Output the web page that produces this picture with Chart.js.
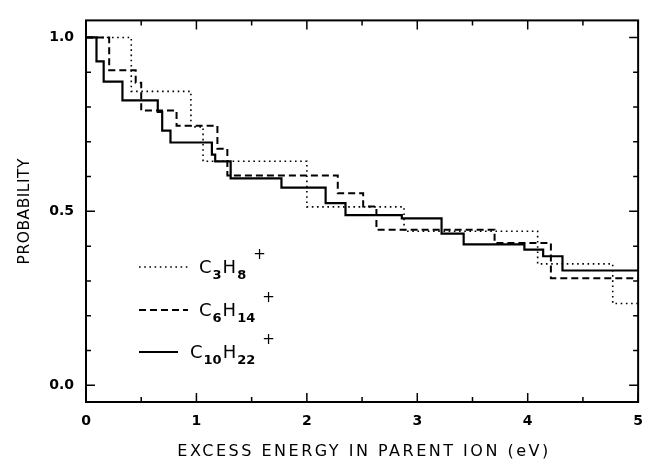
<!DOCTYPE html>
<html>
<head>
<meta charset="utf-8">
<script src="https://cdn.jsdelivr.net/npm/chart.js@4.4.1/dist/chart.umd.min.js"></script>
<style>
  html, body { margin: 0; padding: 0; background: #fff; }
  #wrap { width: 654px; height: 468px; }
</style>
</head>
<body>
<div id="wrap"><canvas id="prob-chart"></canvas></div>
<script>
// Each step starts at energy[i] (eV) and holds prob[i] until the next edge
const energyC3H8 = [0, 0.41, 0.95, 1.06, 2.0, 2.88, 4.09, 4.77];
const probC3H8 = [1.0, 0.845, 0.743, 0.644, 0.513, 0.443, 0.349, 0.235];

const energyC6H14 = [0, 0.21, 0.45, 0.50, 0.82, 1.19, 1.28, 2.28, 2.51, 2.63, 3.70, 4.21];
const probC6H14 = [1.0, 0.906, 0.87, 0.79, 0.746, 0.68, 0.603, 0.552, 0.514, 0.447, 0.409, 0.308];

const energyC10H22 = [0, 0.095, 0.16, 0.33, 0.65, 0.69, 0.765, 1.14, 1.17, 1.31, 1.77, 2.17, 2.35, 2.86, 3.22, 3.42, 3.97, 4.14, 4.315];
const probC10H22 = [1.0, 0.931, 0.873, 0.819, 0.786, 0.732, 0.698, 0.663, 0.644, 0.595, 0.568, 0.524, 0.489, 0.48, 0.436, 0.405, 0.39, 0.371, 0.33];

const seriesNames = ['C3H8+', 'C6H14+', 'C10H22+'];
const xTicks = [0, 1, 2, 3, 4, 5];
const yTicks = [0, 0.5, 1.0];
const xMax = 5;

function steps(edges, probs) {
  const pts = edges.map((e, i) => ({ x: e, y: probs[i] }));
  pts.push({ x: xMax, y: probs[probs.length - 1] });
  return pts;
}

// split "C10H22+" into normal / subscript / superscript runs
function formulaParts(name) {
  const parts = [];
  for (const ch of name) {
    const kind = /[0-9]/.test(ch) ? 'sub' : ch === '+' ? 'sup' : 'main';
    const last = parts[parts.length - 1];
    if (last && last.kind === kind) last.text += ch;
    else parts.push({ kind, text: ch });
  }
  return parts;
}

const FONT = '"DejaVu Sans", sans-serif';

// legend rows: sample line end and text start, per series
const legendRows = [
  { y: 267, lineEnd: 190, textX: 199 },
  { y: 310, lineEnd: 188, textX: 199 },
  { y: 352, lineEnd: 178, textX: 190 },
];

const framePlugin = {
  id: 'framePlugin',
  afterDraw(chart) {
    const { ctx, chartArea: a } = chart;
    const x = chart.scales.x, y = chart.scales.y;
    ctx.save();
    ctx.strokeStyle = '#000';
    ctx.setLineDash([]);

    // box
    ctx.lineWidth = 2;
    ctx.strokeRect(a.left, a.top, a.right - a.left, a.bottom - a.top);

    // inward tick marks on all four sides
    ctx.lineWidth = 1.5;
    ctx.beginPath();
    for (let i = 0; i <= 10; i++) {
      const px = x.getPixelForValue(i * 0.5);
      const len = i % 2 === 0 ? 9 : 5;
      ctx.moveTo(px, a.bottom); ctx.lineTo(px, a.bottom - len);
      ctx.moveTo(px, a.top); ctx.lineTo(px, a.top + len);
    }
    for (let i = 0; i <= 10; i++) {
      const py = y.getPixelForValue(i / 10);
      const len = i % 5 === 0 ? 9 : 5;
      ctx.moveTo(a.left, py); ctx.lineTo(a.left + len, py);
      ctx.moveTo(a.right, py); ctx.lineTo(a.right - len, py);
    }
    ctx.stroke();

    // axis titles
    ctx.fillStyle = '#000';
    ctx.textAlign = 'center';
    ctx.textBaseline = 'middle';
    ctx.font = '16px ' + FONT;
    ctx.letterSpacing = '2.5px';
    ctx.fillText('EXCESS ENERGY IN PARENT ION (eV)', (a.left + a.right) / 2 + 2, 452);
    ctx.font = '15.5px ' + FONT;
    ctx.letterSpacing = '0.5px';
    ctx.save();
    ctx.translate(25, (a.top + a.bottom) / 2);
    ctx.rotate(-Math.PI / 2);
    ctx.fillText('PROBABILITY', 0, 0);
    ctx.restore();
    ctx.letterSpacing = '0px';

    // legend with sub/superscripts
    chart.data.datasets.forEach((ds, i) => {
      const row = legendRows[i];
      ctx.beginPath();
      ctx.lineWidth = ds.borderWidth;
      ctx.setLineDash(ds.borderDash || []);
      ctx.moveTo(139, row.y);
      ctx.lineTo(row.lineEnd, row.y);
      ctx.stroke();
      ctx.setLineDash([]);

      let tx = row.textX;
      const base = row.y + 6;
      ctx.textAlign = 'left';
      ctx.textBaseline = 'alphabetic';
      formulaParts(seriesNames[i]).forEach(p => {
        if (p.kind === 'main') {
          ctx.font = '18px ' + FONT;
          ctx.fillText(p.text, tx, base);
          tx += ctx.measureText(p.text).width;
        } else if (p.kind === 'sub') {
          ctx.font = 'bold 13px ' + FONT;
          ctx.fillText(p.text, tx + 1, base + 6);
          tx += ctx.measureText(p.text).width + 2;
        } else {
          ctx.font = '15px ' + FONT;
          ctx.fillText(p.text, tx + 6, base - 14);
        }
      });
    });
    ctx.restore();
  }
};

new Chart(document.getElementById('prob-chart'), {
  type: 'line',
  data: {
    datasets: [
      {
        label: seriesNames[0],
        data: steps(energyC3H8, probC3H8),
        borderColor: '#000',
        borderWidth: 1.6,
        borderDash: [1.6, 3.6],
      },
      {
        label: seriesNames[1],
        data: steps(energyC6H14, probC6H14),
        borderColor: '#000',
        borderWidth: 2,
        borderDash: [7, 4],
      },
      {
        label: seriesNames[2],
        data: steps(energyC10H22, probC10H22),
        borderColor: '#000',
        borderWidth: 2.2,
      },
    ],
  },
  options: {
    responsive: true,
    maintainAspectRatio: false,
    animation: false,
    elements: {
      point: { radius: 0 },
      line: { stepped: 'before', tension: 0, fill: false },
    },
    layout: { padding: { top: 16, right: 8, left: 0, bottom: 0 } },
    plugins: {
      legend: { display: false },
      tooltip: { enabled: false },
    },
    scales: {
      x: {
        type: 'linear',
        min: 0,
        max: xMax,
        afterBuildTicks: s => { s.ticks = xTicks.map(v => ({ value: v })); },
        afterFit: s => { s.height = 66; },
        grid: { display: false, drawTicks: false },
        border: { display: false },
        ticks: {
          color: '#000',
          padding: 11,
          maxRotation: 0,
          font: { family: FONT, size: 14, weight: 'bold' },
          callback: v => String(v),
        },
      },
      y: {
        type: 'linear',
        min: -0.048,
        max: 1.049,
        afterBuildTicks: s => { s.ticks = yTicks.map(v => ({ value: v })); },
        afterFit: s => { s.width = 86; },
        grid: { display: false, drawTicks: false },
        border: { display: false },
        ticks: {
          color: '#000',
          padding: 12,
          font: { family: FONT, size: 14, weight: 'bold' },
          callback: v => v.toFixed(1),
        },
      },
    },
  },
  plugins: [framePlugin],
});
</script>
</body>
</html>
